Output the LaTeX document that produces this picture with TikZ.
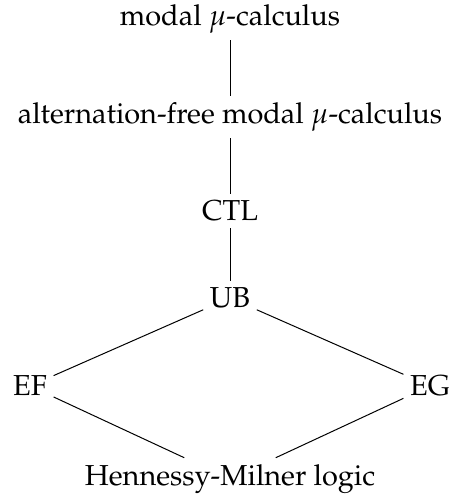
\documentclass[tikz,border=0pt]{standalone}
\usepackage[T1]{fontenc}
\usepackage{mathpazo}
\usetikzlibrary{positioning}

\begin{document}
\begin{tikzpicture}[x=0.4pt,y=-0.4pt,font=\fontsize{11.55pt}{14pt}\selectfont]
  \useasboundingbox (0,0) rectangle (456,498);
  \tikzset{logic/.style={inner sep=2.5pt}}
  \node[logic] (mu) at (230,19) {modal $\mu$-calculus};
  \node[logic] (afmu) at (230,117) {alternation-free modal $\mu$-calculus};
  \node[logic] (ctl) at (230,211) {CTL};
  \node[logic] (ub) at (230,298) {UB};
  \node[logic] (ef) at (30,386) {EF};
  \node[logic] (eg) at (430,386) {EG};
  \node[logic] (hml) at (230,479) {Hennessy-Milner logic};
  \draw (mu) -- (afmu);
  \draw (afmu) -- (ctl);
  \draw (ctl) -- (ub);
  \draw (ub) -- (ef);
  \draw (ub) -- (eg);
  \draw (ef) -- (hml);
  \draw (eg) -- (hml);
\end{tikzpicture}
\end{document}
